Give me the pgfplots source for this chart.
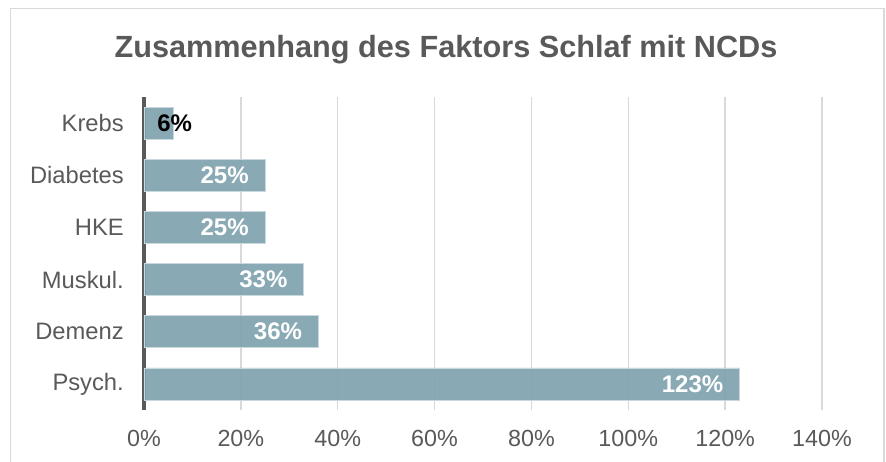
\documentclass[border=0pt]{standalone}
\usepackage{fontspec}
\setmainfont{Liberation Sans}
\usepackage{pgfplots}
\pgfplotsset{compat=1.18}
\definecolor{txtgray}{HTML}{595959}
\definecolor{barcol}{HTML}{7FA3AF}
\definecolor{bardraw}{HTML}{C8D8DE}
\definecolor{gridgray}{HTML}{D9D9D9}
\definecolor{framegray}{HTML}{D9D9D9}
\begin{document}
\begin{tikzpicture}
\useasboundingbox (0pt,0pt) rectangle (664.5pt,345.75pt);
\draw[framegray, line width=1.2pt] (8pt,-4pt) rectangle (663pt,339.5pt);
\node[font=\fontsize{23}{27}\selectfont\bfseries, text=txtgray] at (334.5pt,308.5pt) {Zusammenhang des Faktors Schlaf mit NCDs};
\begin{axis}[
  at={(108pt,38.25pt)}, anchor=south west,
  scale only axis, width=508.5pt, height=234.75pt,
  xmin=0, xmax=140, ymin=-0.5, ymax=5.5,
  axis x line*=bottom, axis y line*=left,
  x axis line style={draw=none},
  y axis line style={draw=txtgray, line width=2.3pt},
  major tick length=0pt,
  xtick={0,20,...,140},
  xticklabel={\pgfmathprintnumber{\tick}\%},
  ytick={0,1,2,3,4,5},
  yticklabels={Psych.,Demenz,Muskul.,HKE,Diabetes,Krebs},
  xmajorgrids,
  grid style={gridgray, line width=1.1pt},
  xticklabel style={font=\fontsize{17.5}{21}\selectfont, text=txtgray, inner sep=0pt, yshift=-15pt},
  yticklabel style={font=\fontsize{17.8}{21}\selectfont, text=txtgray, inner sep=0pt, xshift=-15pt},
  /pgf/number format/assume math mode=true,
  clip=false,
]
\addplot[xbar, bar shift=0pt, bar width=24pt, fill=barcol, fill opacity=0.92, draw=bardraw, line width=0.6pt,
  point meta=x,
  nodes near coords={\pgfmathprintnumber{\pgfplotspointmeta}\%},
  every node near coord/.append style={anchor=east, xshift=-12pt, text=white, text opacity=1, fill opacity=1, font=\fontsize{18}{22}\selectfont\bfseries, inner sep=0pt}]
  coordinates {(25,4) (25,3) (33,2) (36,1) (123,0)};
\addplot[xbar, bar shift=0pt, bar width=24pt, fill=barcol, fill opacity=0.92, draw=bardraw, line width=0.6pt,
  point meta=x,
  nodes near coords={\pgfmathprintnumber{\pgfplotspointmeta}\%},
  every node near coord/.append style={anchor=east, xshift=14.5pt, text=black, text opacity=1, fill opacity=1, font=\fontsize{18}{22}\selectfont\bfseries, inner sep=0pt}]
  coordinates {(6,5)};
\end{axis}
\end{tikzpicture}
\end{document}
